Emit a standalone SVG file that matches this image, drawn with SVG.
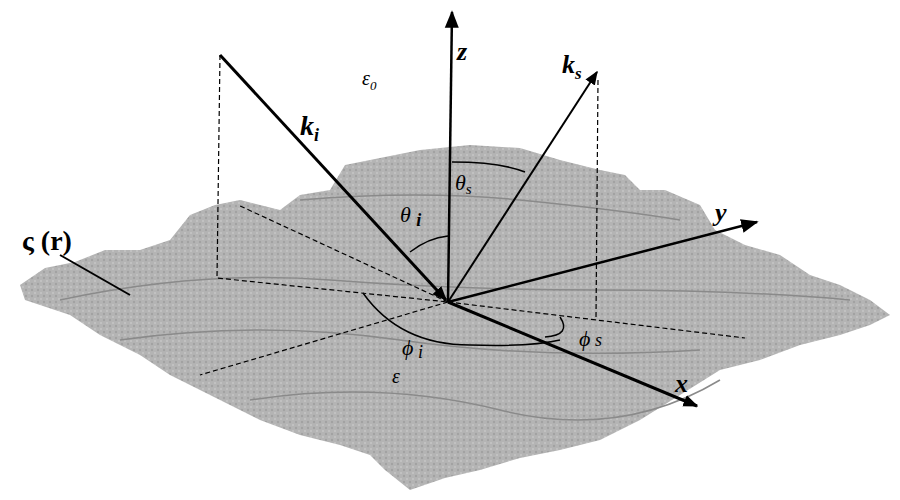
<svg xmlns="http://www.w3.org/2000/svg" width="900" height="500" viewBox="0 0 900 500">
<defs>
<marker id="ah" viewBox="0 0 10 10" refX="9" refY="5" markerWidth="5" markerHeight="5" orient="auto" markerUnits="strokeWidth"><path d="M0,1 L10,5 L0,9 z" fill="#000"/></marker>
<marker id="ah2" viewBox="0 0 10 10" refX="9" refY="5" markerWidth="7" markerHeight="7" orient="auto" markerUnits="strokeWidth"><path d="M0,1 L10,5 L0,9 z" fill="#000"/></marker>
<pattern id="tex" width="6" height="6" patternUnits="userSpaceOnUse"><rect width="6" height="6" fill="#b4b4b4"/><circle cx="2" cy="2" r="1.2" fill="#a2a2a2"/><circle cx="5" cy="5" r="1" fill="#c6c6c6"/></pattern>
</defs>
<style>
.ax{stroke:#000;fill:none}
.d{stroke:#000;stroke-width:1.2;stroke-dasharray:5,3;fill:none}
.t{font-family:"Liberation Serif",serif;font-style:italic;fill:#000}
</style>
<rect width="900" height="500" fill="#fff"/>
<g id="surface">
<path fill="url(#tex)" d="M20,285 L45,268 L75,262 L105,250 L140,250 L170,240 L190,215 L215,205 L240,200 L280,210 L300,195 L330,190 L345,165 L380,158 L420,150 L470,145 L520,148 L560,160 L600,170 L625,175 L640,190 L665,190 L700,205 L715,230 L745,245 L780,255 L810,275 L840,285 L870,300 L890,315 L870,325 L840,335 L800,345 L760,360 L720,370 L680,395 L640,420 L600,440 L560,450 L520,458 L480,470 L445,478 L410,490 L385,470 L370,455 L340,445 L300,435 L260,420 L220,400 L190,385 L170,375 L140,355 L100,335 L70,315 L40,305 L25,300 Z"/>
<path d="M60,300 Q200,270 330,280 T600,290 T850,300 M120,340 Q260,320 400,340 T700,350 M250,400 Q380,380 500,410 T720,380 M300,200 Q420,190 520,200 T680,220" stroke="#8a8a8a" stroke-width="1.5" fill="none"/>
</g>
<g id="connectors">
<line class="ax" x1="448" y1="302" x2="452" y2="12" stroke-width="2.5" marker-end="url(#ah2)"/>
<line class="ax" x1="220" y1="55" x2="446" y2="300" stroke-width="3" marker-end="url(#ah)"/>
<line class="ax" x1="448" y1="302" x2="597" y2="72" stroke-width="2" marker-end="url(#ah2)"/>
<line class="ax" x1="448" y1="302" x2="757" y2="222" stroke-width="2.5" marker-end="url(#ah2)"/>
<line class="ax" x1="448" y1="302" x2="697" y2="406" stroke-width="3" marker-end="url(#ah)"/>
<path class="d" d="M220,55 L217,278 L448,302"/>
<path class="d" d="M598,80 L596,318"/>
<path class="d" d="M448,302 L745,338"/>
<path class="d" d="M448,302 L200,375"/>
<path class="d" d="M448,302 L238,205"/>
<path class="ax" stroke-width="1.5" d="M363,293 Q400,345 470,345 Q530,347 560,340"/>
<path class="ax" stroke-width="1.5" d="M560,317 Q572,335 545,337"/>
<path class="ax" stroke-width="1.5" d="M410,252 Q428,238 448,236"/>
<path class="ax" stroke-width="1.5" d="M452,162 Q500,162 525,172"/>
<line class="ax" x1="60" y1="255" x2="130" y2="295" stroke-width="2"/>
</g>
<g id="labels">
<text class="t" x="457" y="60" font-size="26" font-weight="bold">z</text>
<text class="t" x="562" y="73" font-size="26" font-weight="bold">k<tspan font-size="17" dy="6">s</tspan></text>
<text class="t" x="300" y="135" font-size="28" font-weight="bold">k<tspan font-size="18" dy="6">i</tspan></text>
<text class="t" x="362" y="85" font-size="20">ε<tspan font-size="13" dy="5">0</tspan></text>
<text class="t" x="455" y="190" font-size="22">θ<tspan font-size="15" dy="4">s</tspan></text>
<text class="t" x="400" y="222" font-size="22">θ <tspan font-size="18" font-weight="bold" dy="4">i</tspan></text>
<text class="t" x="715" y="221" font-size="26" font-weight="bold">y</text>
<text class="t" x="675" y="392" font-size="26" font-weight="bold">x</text>
<text class="t" x="402" y="355" font-size="22">ϕ<tspan font-size="18" dy="3"> i</tspan></text>
<text class="t" x="579" y="346" font-size="22">ϕ<tspan font-size="18" dy="0"> s</tspan></text>
<text class="t" x="392" y="383" font-size="20">ε</text>
<text x="22" y="250" font-family="Liberation Serif,serif" font-weight="bold" font-size="28">ς (r)</text>
</g>
</svg>
